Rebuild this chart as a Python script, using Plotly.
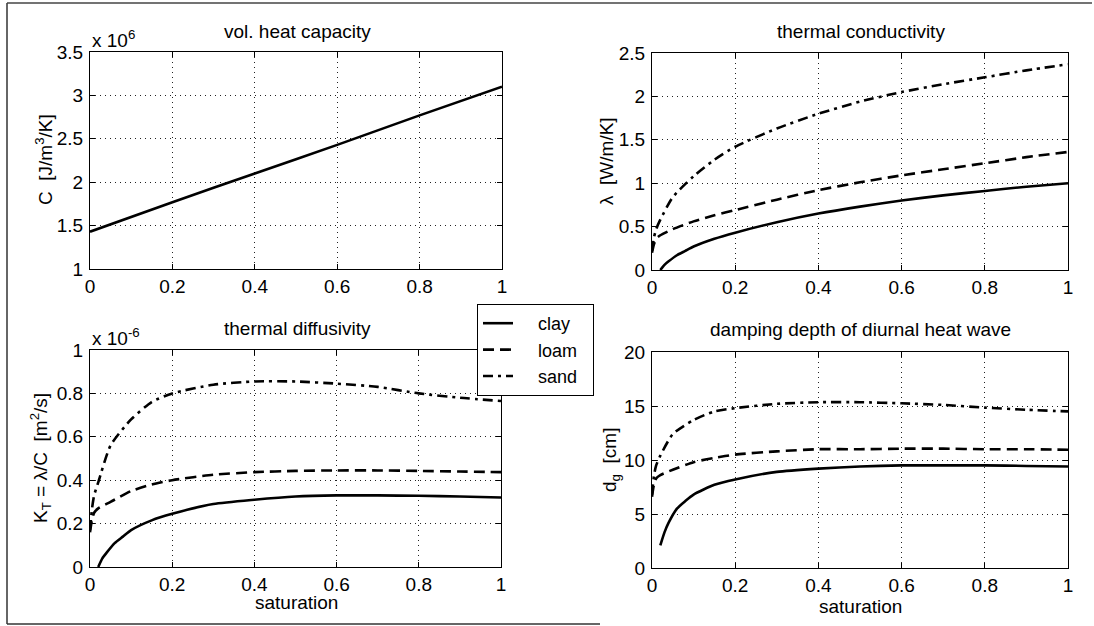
import plotly.graph_objects as go

W, H = 1094, 626

# ---------------- data ----------------
sat_C = [0, 0.2, 0.4, 0.6, 0.8, 1.0]
heat_capacity = [1.43, 1.77, 2.10, 2.43, 2.77, 3.10]  # x 10^6 J/m3/K

sat_clay = [0.02, 0.03, 0.04, 0.06, 0.08, 0.1, 0.15, 0.2, 0.3, 0.4, 0.5, 0.6, 0.7, 0.8, 0.9, 1.0]
sat_ls = [0, 0.005, 0.01, 0.02, 0.05, 0.1, 0.15, 0.2, 0.3, 0.4, 0.5, 0.6, 0.7, 0.8, 0.9, 1.0]

lam_clay = [0, 0.06, 0.1, 0.17, 0.22, 0.27, 0.36, 0.43, 0.55, 0.65, 0.73, 0.80, 0.86, 0.91, 0.96, 1.0]
lam_loam = [0.2, 0.3, 0.36, 0.40, 0.47, 0.56, 0.63, 0.69, 0.81, 0.92, 1.01, 1.09, 1.16, 1.23, 1.30, 1.36]
lam_sand = [0.22, 0.38, 0.47, 0.58, 0.84, 1.08, 1.27, 1.42, 1.63, 1.80, 1.94, 2.05, 2.14, 2.22, 2.30, 2.37]

kt_clay = [0, 0.04, 0.065, 0.11, 0.14, 0.17, 0.215, 0.245, 0.29, 0.31, 0.325, 0.33, 0.33, 0.328, 0.325, 0.32]
kt_loam = [0.16, 0.22, 0.25, 0.27, 0.30, 0.35, 0.38, 0.40, 0.425, 0.437, 0.443, 0.445, 0.445, 0.443, 0.44, 0.437]
kt_sand = [0.17, 0.27, 0.33, 0.39, 0.56, 0.68, 0.76, 0.80, 0.84, 0.855, 0.855, 0.845, 0.83, 0.80, 0.78, 0.765]

dg_clay = [2.1, 3.3, 4.2, 5.5, 6.2, 6.8, 7.7, 8.2, 8.9, 9.2, 9.4, 9.5, 9.5, 9.5, 9.45, 9.4]
dg_loam = [6.6, 7.8, 8.3, 8.6, 9.1, 9.8, 10.2, 10.5, 10.8, 11.0, 11.0, 11.05, 11.05, 11.0, 11.0, 10.95]
dg_sand = [6.8, 8.6, 9.5, 10.4, 12.4, 13.7, 14.5, 14.8, 15.2, 15.35, 15.35, 15.25, 15.1, 14.85, 14.65, 14.5]

soil_names = ["clay", "loam", "sand"]
titles = ["vol. heat capacity", "thermal conductivity", "thermal diffusivity",
          "damping depth of diurnal heat wave"]
x_ticks = [0, 0.2, 0.4, 0.6, 0.8, 1]
x_ticklabels = ["0", "0.2", "0.4", "0.6", "0.8", "1"]

# ---------------- styling ----------------
FONT = "Liberation Sans, Arial, Helvetica, sans-serif"
FS = 19
LW = 2.6
dashes = {"clay": "solid", "loam": "11px,6px", "sand": "10px,5px,3px,5px"}
NB = "\u00a0"


def px_x(p):
    return p / W


def px_y(p):
    return 1 - p / H


fig = go.Figure()

# axes boxes in pixels: (left, right, top, bottom)
boxes = {
    1: (90, 502, 52, 269),
    2: (652, 1068, 53, 270),
    3: (90, 501, 350, 567),
    4: (652, 1068, 352, 568),
}
yranges = {1: [1, 3.5], 2: [0, 2.5], 3: [0, 1], 4: [0, 20]}
ydticks = {1: 0.5, 2: 0.5, 3: 0.2, 4: 5}


def add(sub, x, y, name, show):
    sfx = "" if sub == 1 else str(sub)
    fig.add_trace(go.Scatter(
        x=x, y=y, name=NB * 4 + name + NB * 2, mode="lines", showlegend=show,
        line=dict(color="black", width=LW, dash=dashes[name], shape="spline", smoothing=0.6),
        xaxis="x" + sfx, yaxis="y" + sfx))


add(1, sat_C, heat_capacity, "clay", False)
add(2, sat_clay, lam_clay, "clay", False)
add(2, sat_ls, lam_loam, "loam", False)
add(2, sat_ls, lam_sand, "sand", False)
add(3, sat_clay, kt_clay, "clay", True)
add(3, sat_ls, kt_loam, "loam", True)
add(3, sat_ls, kt_sand, "sand", True)
add(4, sat_clay, dg_clay, "clay", False)
add(4, sat_ls, dg_loam, "loam", False)
add(4, sat_ls, dg_sand, "sand", False)

layout = {}
for k, (l, r, t, b) in boxes.items():
    sfx = "" if k == 1 else str(k)
    common = dict(showline=True, linecolor="black", linewidth=1, mirror="ticks",
                  ticks="inside", ticklen=5, tickcolor="black", automargin=False,
                  showgrid=True, gridcolor="#222", gridwidth=1, griddash="1px,4px",
                  zeroline=False, tickfont=dict(family=FONT, size=FS, color="black"))
    layout["xaxis" + sfx] = dict(domain=[px_x(l), px_x(r)], range=[0, 1],
                                 tickvals=x_ticks, ticktext=x_ticklabels,
                                 anchor="y" + sfx, **common)
    layout["yaxis" + sfx] = dict(domain=[px_y(b), px_y(t)], range=yranges[k],
                                 dtick=ydticks[k], tick0=0, ticklabelstandoff=2,
                                 anchor="x" + sfx, **common)

ann = []


def text(x, y, s, size=FS, angle=0, xanchor="center", yanchor="middle"):
    ann.append(dict(x=px_x(x), y=px_y(y), xref="paper", yref="paper", text=s,
                    showarrow=False, textangle=angle, xanchor=xanchor, yanchor=yanchor,
                    font=dict(family=FONT, size=size, color="black")))


text(297, 31, titles[0])
text(861, 31, titles[1])
text(297, 328, titles[2])
text(860, 329, titles[3])

text(90, 39, "x 10<sup>6</sup>", xanchor="left")
text(90, 337, "x 10<sup>-6</sup>", xanchor="left")

text(44, 160, "C  [J/m<sup>3</sup>/K]", angle=-90)
text(607, 161, "λ  [W/m/K]", angle=-90)
text(40, 458, "K<sub>T</sub> = λ/C  [m<sup>2</sup>/s]", angle=-90)
text(611, 460, "d<sub>g</sub>  [cm]", angle=-90)

text(296, 602, "saturation")
text(860, 606, "saturation")

shapes = [
    dict(type="line", xref="paper", yref="paper", x0=px_x(7), x1=px_x(7), y0=px_y(3), y1=px_y(624),
         line=dict(color="#333", width=1.5)),
    dict(type="line", xref="paper", yref="paper", x0=px_x(7), x1=px_x(1092), y0=px_y(3), y1=px_y(3),
         line=dict(color="#444", width=1.5)),
    dict(type="line", xref="paper", yref="paper", x0=px_x(7), x1=px_x(600), y0=px_y(624), y1=px_y(624),
         line=dict(color="#333", width=1.5)),
]

fig.update_layout(
    template="none",
    width=W, height=H, autosize=False,
    margin=dict(l=0, r=0, t=0, b=0, pad=0, autoexpand=False),
    paper_bgcolor="white", plot_bgcolor="white",
    font=dict(family=FONT, size=FS, color="black"),
    annotations=ann, shapes=shapes,
    legend=dict(x=px_x(477), y=px_y(304), xanchor="left", yanchor="top",
                bordercolor="black", borderwidth=1, bgcolor="white",
                font=dict(family=FONT, size=18, color="black"),
                tracegroupgap=0, itemwidth=30),
    **layout,
)

fig.write_html("out.html", config={"responsive": False, "displayModeBar": False})
